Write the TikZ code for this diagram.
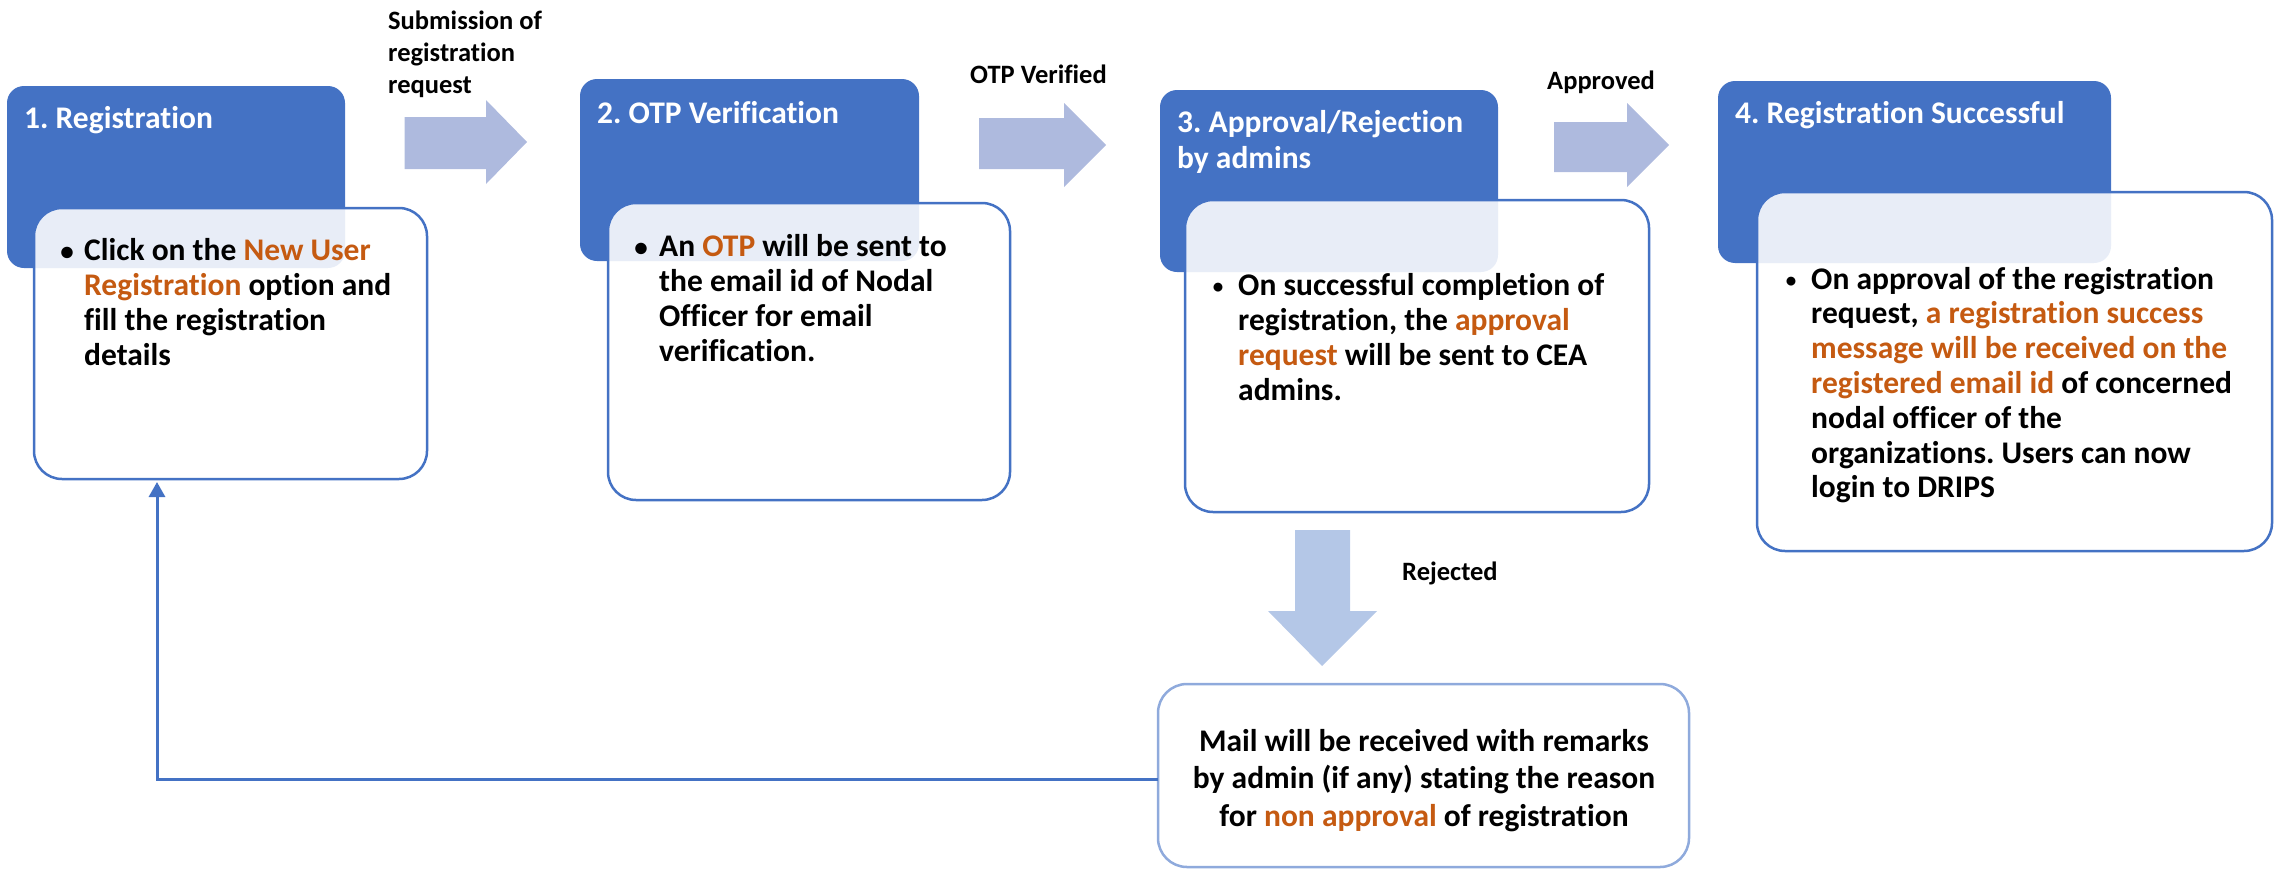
\documentclass[tikz,border=0pt]{standalone}
\usepackage{fontspec}
\setmainfont{Carlito}[Ligatures={NoCommon}]
\usetikzlibrary{arrows.meta}
\definecolor{mblue}{HTML}{4472C4}
\definecolor{morange}{HTML}{C55A11}
\definecolor{marrow}{HTML}{AEBADE}
\definecolor{marrowd}{HTML}{B4C7E7}
\definecolor{mlight}{HTML}{8FAADC}
\newcommand{\hl}[1]{\textcolor{morange}{#1}}
\newcommand{\leftlines}[2]{\vtop{\baselineskip=#1\lineskiplimit=-20pt\lineskip=0pt\halign{##\hfil\cr#2\crcr}}}
\newcommand{\centerlines}[2]{\vtop{\baselineskip=#1\lineskiplimit=-20pt\lineskip=0pt\halign{\hfil##\hfil\cr#2\crcr}}}
\frenchspacing
\begin{document}
\frenchspacing
\begin{tikzpicture}[x=1pt,y=-1pt,
  bluebox/.style={fill=mblue, rounded corners=17pt, inner sep=0pt, outer sep=0pt, anchor=north west},
  whitebox/.style={fill=white, fill opacity=0.88, draw=mblue, draw opacity=1, line width=2.5pt, rounded corners=28pt, inner sep=0pt, outer sep=0pt, anchor=north west},
  mailbox/.style={fill=white, draw=mlight, line width=2.5pt, rounded corners=29pt, inner sep=0pt, outer sep=0pt, anchor=north west},
  titletxt/.style={text=white, font=\fontsize{31.5}{36}\selectfont\bfseries\frenchspacing, inner sep=0pt, anchor=base west},
  bodytxt/.style={text=black, font=\fontsize{31.5}{35}\selectfont\bfseries\frenchspacing, inner sep=0pt, anchor=base west},
  bulletbig/.style={text=black, font=\fontsize{27}{35}\selectfont\bfseries, inner sep=0pt, anchor=base},
  bulletsmall/.style={text=black, font=\fontsize{21}{35}\selectfont\bfseries, inner sep=0pt, anchor=base},
  labeltxt/.style={text=black, font=\fontsize{26.5}{32}\selectfont\bfseries, inner sep=0pt, anchor=base west},
  fb/.style={draw=mblue, line width=3pt, -{Triangle[width=16pt,length=15pt]}}
]
\useasboundingbox (0,0) rectangle (2274,870);

% blue header boxes
\node[bluebox, minimum width=338pt, minimum height=182pt] (b1) at (7,86) {};
\node[bluebox, minimum width=339pt, minimum height=182pt] (b2) at (580,79) {};
\node[bluebox, minimum width=338pt, minimum height=182pt] (b3) at (1160,90) {};
\node[bluebox, minimum width=393pt, minimum height=182pt] (b4) at (1718,81) {};

% white content boxes
\node[whitebox, minimum width=393pt, minimum height=271pt] (w1) at (34,208) {};
\node[whitebox, minimum width=402pt, minimum height=297pt] (w2) at (608,203) {};
\node[whitebox, minimum width=464pt, minimum height=312pt] (w3) at (1185,200) {};
\node[whitebox, minimum width=515pt, minimum height=359pt] (w4) at (1757,192) {};
\node[mailbox, minimum width=531pt, minimum height=183pt] (mail) at (1158,684) {};

% titles
\node[titletxt] (t1) at (24,128) {1. Registration};
\node[titletxt] (t2) at (597,123) {2. OTP Verification};
\node[titletxt] (t3) at (1177,132) {\leftlines{36pt}{3. Approval/Rejection\cr by admins}};
\node[titletxt] (t4) at (1735,123) {4. Registration Successful};

% bullets
\node[bulletbig] (d1) at (67,260) {•};
\node[bulletbig] (d2) at (641,256) {•};
\node[bulletsmall] (d3) at (1218,293) {•};
\node[bulletsmall] (d4) at (1791,287) {•};

% body texts
\node[bodytxt] (x1) at (84,260) {\leftlines{35pt}{Click on the \hl{New User}\cr
\hl{Registration} option and\cr
fill the registration\cr
details}};
\node[bodytxt] (x2) at (659,256) {\leftlines{35.3pt}{An \hl{OTP} will be sent to\cr
the email id of Nodal\cr
Officer for email\cr
verification.}};
\node[bodytxt] (x3) at (1238,295) {\leftlines{35pt}{On successful completion of\cr
registration, the \hl{approval}\cr
\hl{request} will be sent to CEA\cr
admins.}};
\node[bodytxt] (x4) at (1811,289) {\leftlines{34.8pt}{On approval of the registration\cr
request, \hl{a registration success}\cr
\hl{message will be received on the}\cr
\hl{registered email id} of concerned\cr
nodal officer of the\cr
organizations. Users can now\cr
login to DRIPS}};
\node[bodytxt, anchor=base] (xm) at (1424,751) {\centerlines{37.5pt}{Mail will be received with remarks\cr
by admin (if any) stating the reason\cr
for \hl{non approval} of registration}};

% arrow labels
\node[labeltxt] (l1) at (388,29) {\leftlines{32pt}{Submission of\cr registration\cr request}};
\node[labeltxt] (l2) at (970,83) {OTP Verified};
\node[labeltxt] (l3) at (1547,89) {Approved};
\node[labeltxt] (l4) at (1402,580) {Rejected};

% block arrows
\fill[marrow] (404.5,117) -- (486,117) -- (486,100) -- (527,142) -- (486,184) -- (486,169) -- (404.5,169) -- cycle;
\fill[marrow] (979,118) -- (1064,118) -- (1064,103) -- (1106,145) -- (1064,187) -- (1064,169) -- (979,169) -- cycle;
\fill[marrow] (1554,122) -- (1627,122) -- (1627,103) -- (1669,145) -- (1627,187) -- (1627,172) -- (1554,172) -- cycle;
\fill[marrowd] (1295,530) -- (1350,530) -- (1350,611) -- (1377,611) -- (1322,666) -- (1268,611) -- (1295,611) -- cycle;

% feedback connector
\coordinate (fbx) at (157,0);
\draw[fb, shorten >=3pt] (mail.west) ++(0,3.5) -| (fbx |- w1.south);
\end{tikzpicture}
\end{document}
